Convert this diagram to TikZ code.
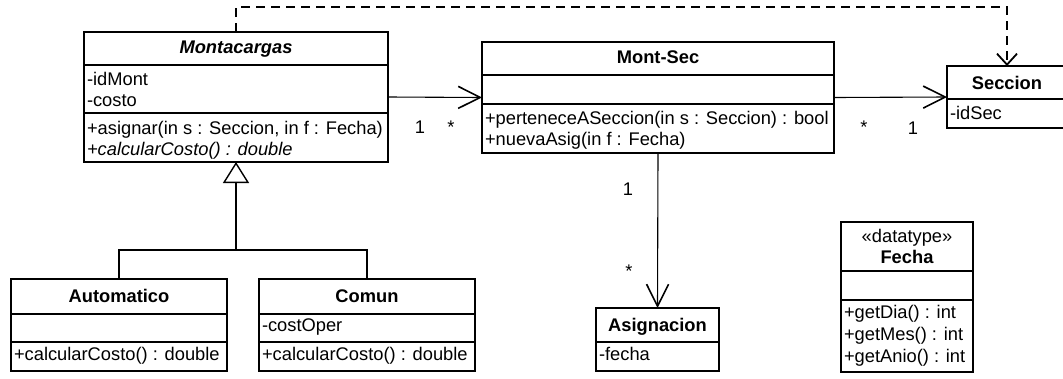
\documentclass[tikz,border=0pt]{standalone}
\usepackage{fontspec}
\setmainfont{Liberation Sans}
\usetikzlibrary{arrows.meta}

\tikzset{
  umltext/.style={font=\fontsize{18.3}{21}\selectfont, inner sep=0pt, outer sep=0pt},
  clsbox/.style={draw, line width=1.6pt, inner sep=0pt, outer sep=0pt, fill=white},
  compsep/.style={line width=1.6pt},
  member/.style={umltext, anchor=base west},
  ctitle/.style={umltext, anchor=base, font=\fontsize{18.3}{21}\selectfont\bfseries},
  mult/.style={umltext, anchor=base},
  assoc/.style={line width=1.1pt, -{Straight Barb[length=22pt, width=22pt, line width=1.6pt]}},
  depend/.style={line width=2pt, dash pattern=on 9pt off 6pt,
                 -{Straight Barb[length=11pt, width=20pt, line width=1.8pt]}},
  generalize/.style={line width=1.1pt, -{Triangle[open, length=21pt, width=26pt, line width=1.4pt]}},
  wire/.style={line width=1.1pt},
}

\begin{document}
\begin{tikzpicture}[x=1pt, y=-1pt]
\useasboundingbox (0,0) rectangle (1063,378);
\clip (0,0) rectangle (1063,378);

% ---- class boxes ----
\node[clsbox, minimum width=304pt, minimum height=130pt] (mont) at (236,97) {};
\node[clsbox, minimum width=352pt, minimum height=111pt] (montsec) at (658,97.5) {};
\node[clsbox, minimum width=120pt, minimum height=62pt] (sec) at (1007,97) {};
\node[clsbox, minimum width=216pt, minimum height=92pt] (auto) at (119,325) {};
\node[clsbox, minimum width=216pt, minimum height=92pt] (comun) at (367,325) {};
\node[clsbox, minimum width=123pt, minimum height=63pt] (asig) at (657.5,339.5) {};
\node[clsbox, minimum width=132pt, minimum height=150pt] (fecha) at (907,297) {};

% ---- compartment separators ----
\draw[compsep] (mont.west |- 0,65) -- (mont.east |- 0,65);
\draw[compsep] (mont.west |- 0,113) -- (mont.east |- 0,113);
\draw[compsep] (montsec.west |- 0,75) -- (montsec.east |- 0,75);
\draw[compsep] (montsec.west |- 0,104) -- (montsec.east |- 0,104);
\draw[compsep] (sec.west |- 0,99) -- (sec.east |- 0,99);
\draw[compsep] (auto.west |- 0,314) -- (auto.east |- 0,314);
\draw[compsep] (auto.west |- 0,342) -- (auto.east |- 0,342);
\draw[compsep] (comun.west |- 0,314) -- (comun.east |- 0,314);
\draw[compsep] (comun.west |- 0,342) -- (comun.east |- 0,342);
\draw[compsep] (asig.west |- 0,342) -- (asig.east |- 0,342);
\draw[compsep] (fecha.west |- 0,271) -- (fecha.east |- 0,271);
\draw[compsep] (fecha.west |- 0,300) -- (fecha.east |- 0,300);

% ---- Montacargas ----
\node[ctitle, font=\fontsize{18.3}{21}\selectfont\bfseries\itshape] (mont-t) at (236,53) {Montacargas};
\node[member] (mont-a1) at (87,85) {-idMont};
\node[member] (mont-a2) at (87,106) {-costo};
\node[member] (mont-m1) at (87,134) {+asignar(in s : Seccion, in f : Fecha)};
\node[member, font=\fontsize{18.3}{21}\selectfont\itshape] (mont-m2) at (87,155) {+calcularCosto() : double};

% ---- Mont-Sec ----
\node[ctitle] (montsec-t) at (658,63) {Mont-Sec};
\node[member] (montsec-m1) at (485,124) {+perteneceASeccion(in s : Seccion) : bool};
\node[member] (montsec-m2) at (485,145) {+nuevaAsig(in f : Fecha)};

% ---- Seccion ----
\node[ctitle] (sec-t) at (1007,89) {Seccion};
\node[member] (sec-a1) at (950,119) {-idSec};

% ---- Automatico ----
\node[ctitle] (auto-t) at (119,302) {Automatico};
\node[member] (auto-m1) at (14,360) {+calcularCosto() : double};

% ---- Comun ----
\node[ctitle] (comun-t) at (367,302) {Comun};
\node[member] (comun-a1) at (262,331) {-costOper};
\node[member] (comun-m1) at (262,360) {+calcularCosto() : double};

% ---- Asignacion ----
\node[ctitle] (asig-t) at (657.5,331) {Asignacion};
\node[member] (asig-a1) at (599,360) {-fecha};

% ---- Fecha (datatype) ----
\node[umltext, anchor=base] (fecha-s) at (907,242) {«datatype»};
\node[ctitle] (fecha-t) at (907,263) {Fecha};
\node[member] (fecha-m1) at (844,318) {+getDia() : int};
\node[member] (fecha-m2) at (844,340) {+getMes() : int};
\node[member] (fecha-m3) at (844,362) {+getAnio() : int};

% ---- associations ----
\draw[assoc] (mont.east) -- (montsec.west);
\draw[assoc] (montsec.east) -- (sec.west);
\draw[assoc] (montsec.south) -- (asig.north);

\node[mult] (m1) at (420,133) {1};
\node[mult] (m2) at (451,133) {*};
\node[mult] (m3) at (864,133) {*};
\node[mult] (m4) at (913,134) {1};
\node[mult] (m5) at (628,195) {1};
\node[mult] (m6) at (629,277) {*};

% ---- dependency ----
\coordinate (dtop) at (1007,7);
\draw[depend] (mont.north) |- (dtop) -- (sec.north);

% ---- generalization ----
\coordinate (gj) at (236,250);
\draw[generalize] (gj) -- (mont.south);
\draw[wire] (auto.north) |- (gj) -| (comun.north);
\end{tikzpicture}
\end{document}
